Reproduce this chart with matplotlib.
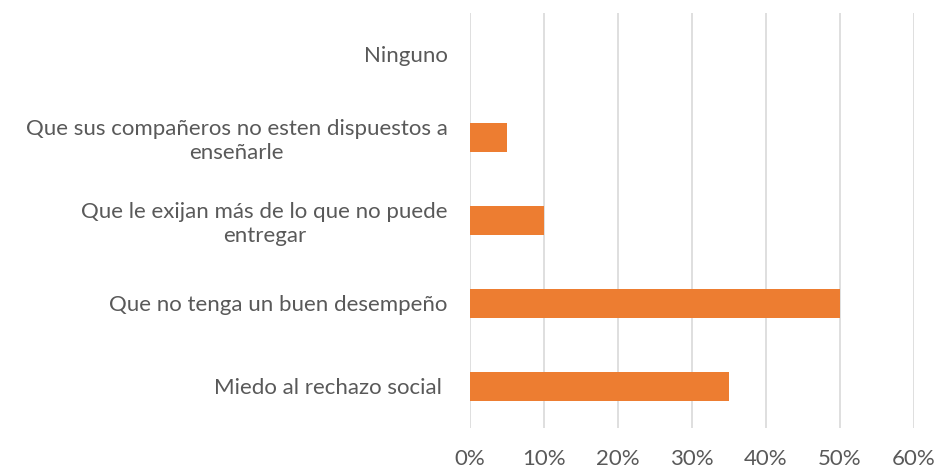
import matplotlib
matplotlib.use("Agg")
import matplotlib.pyplot as plt
from matplotlib.ticker import PercentFormatter, MultipleLocator

categories = [
    "Miedo al rechazo social ",
    "Que no tenga un buen desempeño",
    "Que le exijan más de lo que no puede\nentregar",
    "Que sus compañeros no esten dispuestos a\nenseñarle",
    "Ninguno",
]
values = [35, 50, 10, 5, 0]

plt.rcParams['font.family'] = ['Lato', 'DejaVu Sans']

fig = plt.figure(figsize=(9.4, 4.71), dpi=100)
ax = fig.add_axes([0.5, 0.0913, 0.4723, 0.8811])

ax.barh(range(len(categories)), values, height=0.36, color="#ED7D31", zorder=3)
ax.set_ylim(-0.5, len(categories) - 0.5)
ax.set_xlim(0, 60)
ax.xaxis.set_major_locator(MultipleLocator(10))
ax.xaxis.set_major_formatter(PercentFormatter(decimals=0))
ax.set_yticks(range(len(categories)))
ax.set_yticklabels(categories)
for lbl in ax.get_yticklabels():
    lbl.set_multialignment('center')
    lbl.set_linespacing(1.2)

ax.grid(axis='x', color='#d9d9d9', linewidth=1.2, zorder=0)
for s in ax.spines.values():
    s.set_visible(False)
ax.tick_params(axis='both', length=0, colors='#595959', labelsize=16)
ax.tick_params(axis='y', pad=16)
ax.tick_params(axis='x', pad=15)

fig.savefig("out.png", dpi=100, facecolor='white')
